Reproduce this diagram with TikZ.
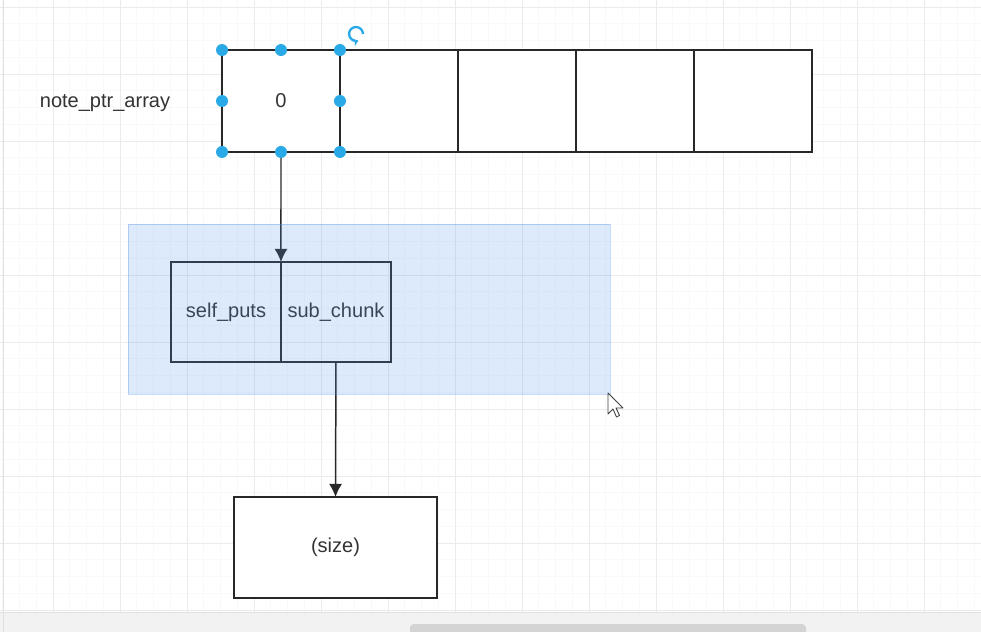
\documentclass[tikz,border=0pt]{standalone}
\usepackage{fontspec}
\setmainfont{Liberation Sans}
\usetikzlibrary{arrows.meta, positioning}

\definecolor{handleblue}{RGB}{41,170,230}
\definecolor{selblue}{RGB}{85,150,235}
\definecolor{textgray}{RGB}{51,51,51}
\definecolor{linegray}{RGB}{40,40,40}

\begin{document}
\begin{tikzpicture}[
    x=0.02cm, y=-0.02cm,
    >={Latex[length=7.5pt, width=7.5pt]},
    every node/.style={font=\fontsize{11.4}{13}\selectfont, text=textgray},
    cell/.style={rectangle, draw=linegray, line width=0.85pt, fill=white, minimum width=2.36cm, minimum height=2.04cm, outer sep=0pt, inner sep=0pt},
    field/.style={rectangle, draw=linegray, line width=0.85pt, minimum width=2.2cm, minimum height=2cm, outer sep=0pt, inner sep=0pt},
    handle/.style={fill=handleblue},
    gridminor/.style={draw=black!2.5, line width=0.4pt},
    gridmajor/.style={draw=black!8, line width=0.5pt}
  ]
    \useasboundingbox (0,0) rectangle (981,632);
    \fill[white] (0,0) rectangle (981,632);

    % canvas grid
    \foreach \k in {0,...,58}
      \draw[gridminor] ({2.75+16.75*\k},0) -- ({2.75+16.75*\k},612);
    \foreach \k in {0,...,36}
      \draw[gridminor] (0,{7+16.75*\k}) -- (981,{7+16.75*\k});
    \foreach \k in {1,...,14}
      \draw[gridmajor] ({-14+67*\k},0) -- ({-14+67*\k},612);
    \foreach \k in {0,...,9}
      \draw[gridmajor] (0,{7+67*\k}) -- (981,{7+67*\k});

    % the array
    \node (label) at (105,103) {note\_ptr\_array};
    \node[cell] (c0) at (281,101) {\raisebox{-1.5pt}{0}};
    \node[cell, right=0pt of c0] (c1) {};
    \node[cell, right=0pt of c1] (c2) {};
    \node[cell, right=0pt of c2] (c3) {};
    \node[cell, right=0pt of c3] (c4) {};

    % the chunk
    \node[field] (selfp) at (226,312) {\raisebox{-1.5pt}{self\_puts}};
    \node[field, right=0pt of selfp] (subc) {\raisebox{-1.5pt}{sub\_chunk}};
    \node[cell, minimum width=4.06cm, minimum height=2.02cm] (sizebox) at (335.5,547.5) {\raisebox{-1.5pt}{(size)}};

    \draw[->, linegray, line width=0.85pt] (c0.south) -- (selfp.north east);
    \draw[->, linegray, line width=0.85pt] (subc.south) -- (sizebox.north);

    % rubber band selection
    \fill[selblue, fill opacity=0.2] (128,224) rectangle (610,394);
    \draw[selblue, draw opacity=0.35, line width=0.5pt] (128,224) rectangle (610,394);

    % handles of the selected cell
    \foreach \a in {north west, north, north east, east, south east, south, south west, west}
      \fill[handle] (c0.\a) circle (0.12cm);
    \coordinate (rot) at (356,34);
    \draw[handleblue, line width=1.3pt, -{Stealth[length=3pt, width=4.5pt]}]
      ([shift={(7,0)}]rot) arc[start angle=0, end angle=290, radius=0.14cm];

    % mouse pointer
    \draw[fill=white, draw=black!75, line width=0.5pt, line join=round]
      (608,393) -- (608,414) -- (613,409) -- (616.5,417) -- (619.5,415.5) -- (616,408) -- (623,408) -- cycle;

    % scroll bar
    \fill[black!5] (0,612) rectangle (981,632);
    \draw[black!12] (0,612) -- (981,612);
    \draw[black!12] (3,0) -- (3,632);
    \fill[black!17, rounded corners=0.08cm] (410,624) rectangle (806,636);
  \end{tikzpicture}
\end{document}
